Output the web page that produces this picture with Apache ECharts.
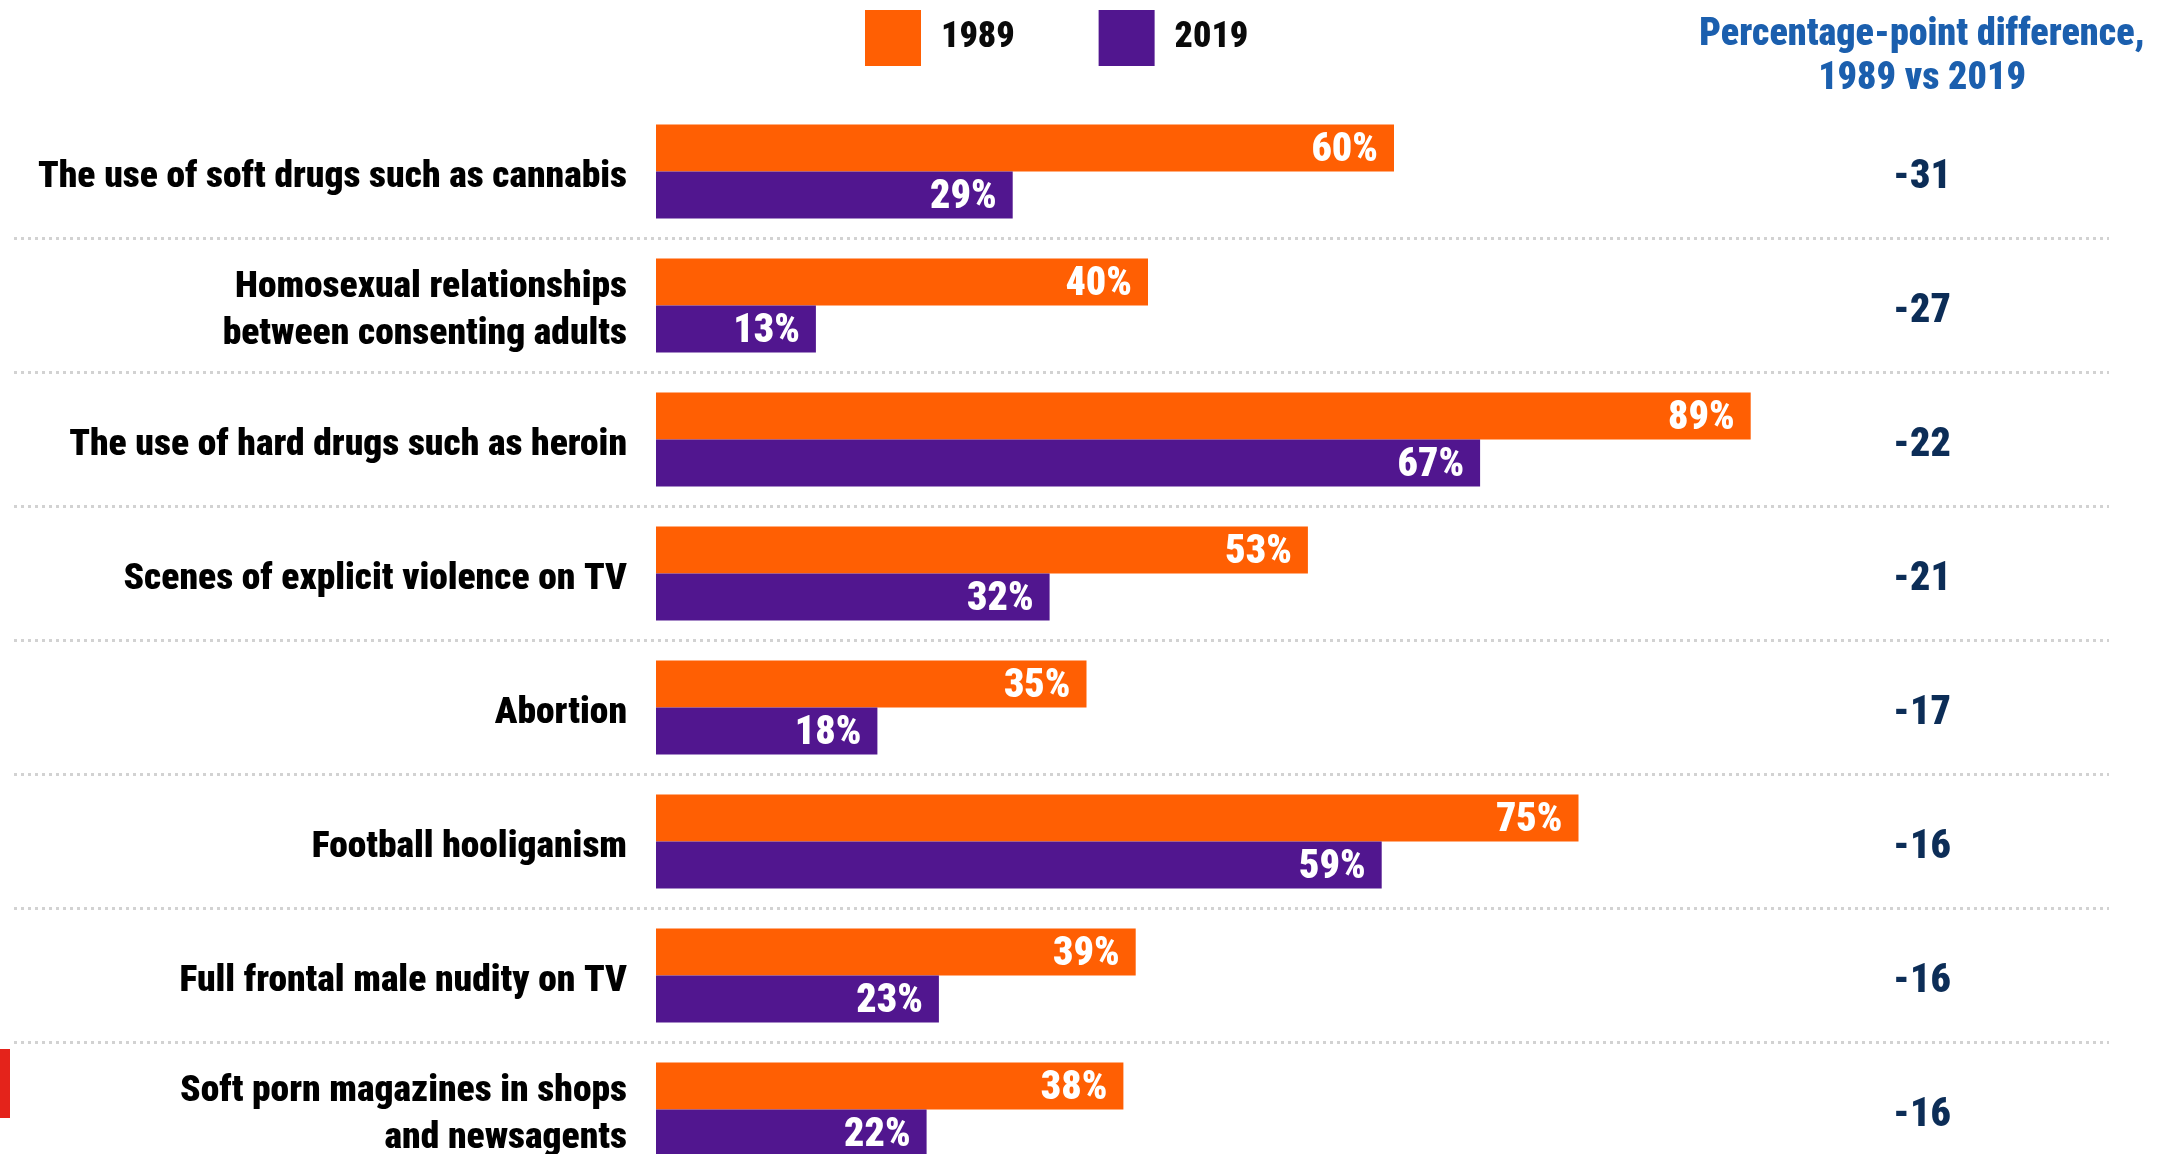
<!DOCTYPE html>
<html><head><meta charset="utf-8">
<script src="https://cdn.jsdelivr.net/npm/echarts@6/dist/echarts.min.js"></script>
<style>html,body{margin:0;padding:0;background:#fff;overflow:hidden}#c{width:2169px;height:1154px}</style>
</head><body><div id="c"></div>
<script>
const categories = [
  'The use of soft drugs such as cannabis',
  'Homosexual relationships\nbetween consenting adults',
  'The use of hard drugs such as heroin',
  'Scenes of explicit violence on TV',
  'Abortion',
  'Football hooliganism',
  'Full frontal male nudity on TV',
  'Soft porn magazines in shops\nand newsagents'
];
const series1989 = [60, 40, 89, 53, 35, 75, 39, 38];
const series2019 = [29, 13, 67, 32, 18, 59, 23, 22];
const differences = [-31, -27, -22, -21, -17, -16, -16, -16];
const legendNames = ['1989', '2019'];
const headerText = 'Percentage-point difference,\n1989 vs 2019';

const FONT = "'Roboto Condensed','Open Sans Condensed',sans-serif";
const WEIGHT = 900;
const ORANGE = '#ff5f03', PURPLE = '#51168f';
const ZERO_X = 656, PX_PER_PCT = 12.3, GRID_LEFT = 14, GRID_RIGHT_EDGE = 2109, DIFF_X = 1922;
const GRID_TOP = 104.5, GRID_H = 1072, LABEL_SHIFT = 6;
const X_MIN = -(ZERO_X - GRID_LEFT) / PX_PER_PCT, X_MAX = (GRID_RIGHT_EDGE - ZERO_X) / PX_PER_PCT;

const chart = echarts.init(document.getElementById('c'), null, {renderer: 'canvas'});
const txt = (size, extra) => Object.assign({fontFamily: FONT, fontWeight: WEIGHT, fontSize: size}, extra || {});
const gridBase = {left: GRID_LEFT, width: GRID_RIGHT_EDGE - GRID_LEFT, height: GRID_H, containLabel: false, outerBoundsMode: 'none'};
const option = {
  animation: false,
  backgroundColor: '#fff',
  legend: {
    data: legendNames, left: 865, top: 10, padding: 0, icon: 'rect', itemWidth: 56, itemHeight: 56, itemGap: 84,
    textStyle: txt(36, {color: '#0a0a0a', padding: [0, 0, 0, 15]})
  },
  graphic: [
    {type: 'text', x: DIFF_X, y: 13, style: {text: headerText, align: 'center', verticalAlign: 'top',
      fontFamily: FONT, fontWeight: WEIGHT, fontSize: 38, lineHeight: 44, fill: '#1b5fae'}},
    {type: 'rect', shape: {x: 0, y: 1049, width: 10, height: 69}, style: {fill: '#e4231b'}}
  ],
  grid: [
    Object.assign({top: GRID_TOP}, gridBase),
    Object.assign({top: GRID_TOP + LABEL_SHIFT}, gridBase)
  ],
  xAxis: [
    {type: 'value', gridIndex: 0, min: X_MIN, max: X_MAX, show: false, splitLine: {show: false}},
    {type: 'value', gridIndex: 1, min: X_MIN, max: X_MAX, show: false, splitLine: {show: false}}
  ],
  yAxis: [
    {
      type: 'category', gridIndex: 0, inverse: true, data: categories,
      axisLine: {show: false, onZero: false}, axisTick: {show: false}, axisLabel: {show: false},
      splitLine: {show: true, interval: function (i) { return i !== 0; },
        lineStyle: {color: '#d2d2d2', width: 3, type: [3, 4]}}
    },
    {
      type: 'category', gridIndex: 1, inverse: true, data: categories, position: 'left',
      offset: -(ZERO_X - GRID_LEFT),
      axisLine: {show: false, onZero: false}, axisTick: {show: false}, splitLine: {show: false},
      axisLabel: txt(37.5, {interval: 0, margin: 29, align: 'right', lineHeight: 47, color: '#000'})
    },
    {
      type: 'category', gridIndex: 1, inverse: true, data: categories, position: 'right',
      offset: DIFF_X - GRID_RIGHT_EDGE,
      axisLine: {show: false, onZero: false}, axisTick: {show: false}, splitLine: {show: false},
      axisLabel: txt(40, {interval: 0, margin: 0, align: 'center', color: '#0c2d57',
        formatter: function (v, i) { const d = differences[i]; return (d < 0 ? '-' : '') + Math.abs(d); }})
    }
  ],
  series: [
    {name: legendNames[0], type: 'bar', xAxisIndex: 0, yAxisIndex: 0, data: series1989, barWidth: 47, barGap: '0%', itemStyle: {color: ORANGE},
      label: txt(40, {show: true, position: 'insideRight', distance: 16, offset: [0, 3], formatter: '{c}%', color: '#fff'})},
    {name: legendNames[1], type: 'bar', xAxisIndex: 0, yAxisIndex: 0, data: series2019, barWidth: 47, barGap: '0%', itemStyle: {color: PURPLE},
      label: txt(40, {show: true, position: 'insideRight', distance: 16, offset: [0, 3], formatter: '{c}%', color: '#fff'})}
  ]
};
chart.setOption(option);
</script></body></html>
